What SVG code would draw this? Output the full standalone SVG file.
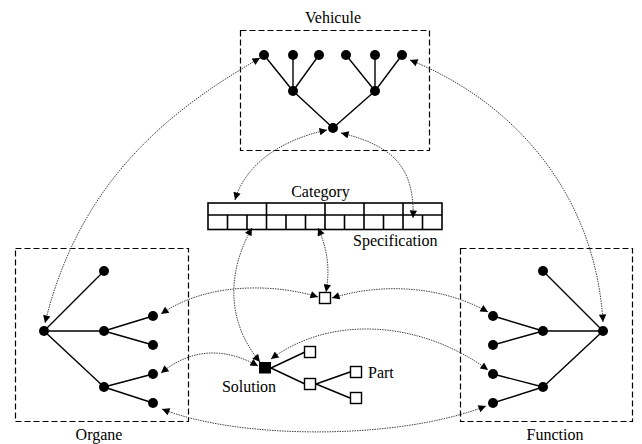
<svg xmlns="http://www.w3.org/2000/svg" width="642" height="444" viewBox="0 0 642 444">
<style>
.box{fill:none;stroke:#000;stroke-width:1.2;stroke-dasharray:6 3}
.edge{stroke:#000;stroke-width:1.4;fill:none}
.dot{fill:#000}
.sq{fill:#fff;stroke:#000;stroke-width:1.4}
.tbl{fill:#fff;stroke:#000;stroke-width:1.6}
.lnk{fill:none;stroke:#444;stroke-width:1;stroke-dasharray:1.5 1}
.lbl{font-family:'Liberation Serif','DejaVu Serif',serif;font-size:16px;fill:#000}
</style>
<defs>
<marker id="ah" viewBox="0 0 10 10" refX="10" refY="5" markerWidth="9" markerHeight="7.5" markerUnits="userSpaceOnUse" orient="auto-start-reverse">
<path d="M0,0 L10,5 L0,10 z" fill="#000"/>
</marker>
</defs>
<rect width="642" height="444" fill="#fff"/>

<g id="vehicule">
<rect class="box" x="240.5" y="30.5" width="189" height="120"/>
<text class="lbl" font-family="Liberation Serif, serif" x="333" y="23" text-anchor="middle">Vehicule</text>
<path class="edge" d="M264,55 L293,91 M293,55 L293,91 M319,55 L293,91 M346,55 L375,91 M375,55 L375,91 M402,55 L375,91 M293,91 L333,128 M375,91 L333,128"/>
<circle class="dot" cx="264" cy="55" r="5"/>
<circle class="dot" cx="293" cy="55" r="5"/>
<circle class="dot" cx="319" cy="55" r="5"/>
<circle class="dot" cx="346" cy="55" r="5"/>
<circle class="dot" cx="375" cy="55" r="5"/>
<circle class="dot" cx="402" cy="55" r="5"/>
<circle class="dot" cx="293" cy="91" r="5"/>
<circle class="dot" cx="375" cy="91" r="5"/>
<circle class="dot" cx="333" cy="128" r="5"/>
</g>

<g id="category">
<rect class="tbl" x="208" y="203" width="234" height="26.5"/>
<path class="tbl" d="M208,215 H442 M266.5,203 V229.5 M325,203 V229.5 M364,203 V229.5 M403,203 V229.5 M227.5,215 V229.5 M247,215 V229.5 M286,215 V229.5 M305.5,215 V229.5 M344.5,215 V229.5 M383.5,215 V229.5 M422.5,215 V229.5"/>
<text class="lbl" font-family="Liberation Serif, serif" x="320.5" y="197" text-anchor="middle">Category</text>
<text class="lbl" font-family="Liberation Serif, serif" x="353" y="246">Specification</text>
</g>

<g id="organe">
<rect class="box" x="15.5" y="248.5" width="173" height="173"/>
<text class="lbl" font-family="Liberation Serif, serif" x="99" y="440" text-anchor="middle">Organe</text>
<path class="edge" d="M44,331 L104,271 M44,331 L104,331 M44,331 L104,387 M104,331 L153,316 M104,331 L153,345 M104,387 L153,374 M104,387 L153,403"/>
<circle class="dot" cx="44" cy="331" r="5"/>
<circle class="dot" cx="104" cy="271" r="5"/>
<circle class="dot" cx="104" cy="331" r="5"/>
<circle class="dot" cx="104" cy="387" r="5"/>
<circle class="dot" cx="153" cy="316" r="5"/>
<circle class="dot" cx="153" cy="345" r="5"/>
<circle class="dot" cx="153" cy="374" r="5"/>
<circle class="dot" cx="153" cy="403" r="5"/>
</g>

<g id="function">
<rect class="box" x="460.5" y="248.5" width="172" height="173"/>
<text class="lbl" font-family="Liberation Serif, serif" x="555" y="440" text-anchor="middle">Function</text>
<path class="edge" d="M603,331 L543,271 M603,331 L543,331 M603,331 L543,387 M543,331 L493,316 M543,331 L493,345 M543,387 L493,374 M543,387 L493,403"/>
<circle class="dot" cx="603" cy="331" r="5"/>
<circle class="dot" cx="543" cy="271" r="5"/>
<circle class="dot" cx="543" cy="331" r="5"/>
<circle class="dot" cx="543" cy="387" r="5"/>
<circle class="dot" cx="493" cy="316" r="5"/>
<circle class="dot" cx="493" cy="345" r="5"/>
<circle class="dot" cx="493" cy="374" r="5"/>
<circle class="dot" cx="493" cy="403" r="5"/>
</g>

<g id="spec-node">
<rect class="sq" x="319.5" y="292.5" width="11" height="11"/>
</g>

<g id="solution">
<path class="edge" d="M271,368 L305,352 M271,368 L305,384 M316,384 L350,372 M316,384 L350,398"/>
<rect x="259" y="362" width="12" height="11.5" fill="#000"/>
<rect class="sq" x="304.5" y="346.5" width="11" height="11"/>
<rect class="sq" x="304.5" y="378.5" width="11" height="11"/>
<rect class="sq" x="350.5" y="366.5" width="11" height="11"/>
<rect class="sq" x="350.5" y="392.5" width="11" height="11"/>
<text class="lbl" font-family="Liberation Serif, serif" x="249" y="392" text-anchor="middle">Solution</text>
<text class="lbl" font-family="Liberation Serif, serif" x="368" y="378">Part</text>
</g>

<g id="connectors">
<path class="lnk" marker-start="url(#ah)" marker-end="url(#ah)" d="M260,58 C170,110 80,180 45,323"/>
<path class="lnk" marker-start="url(#ah)" marker-end="url(#ah)" d="M410,60 C510,100 595,190 603,322"/>
<path class="lnk" marker-start="url(#ah)" marker-end="url(#ah)" d="M327,130 C280,140 245,165 235,200"/>
<path class="lnk" marker-start="url(#ah)" marker-end="url(#ah)" d="M341,133 C390,145 415,165 413,218"/>
<path class="lnk" marker-start="url(#ah)" marker-end="url(#ah)" d="M252,228 C228,270 225,320 260,362"/>
<path class="lnk" marker-start="url(#ah)" marker-end="url(#ah)" d="M318,228 C328,250 330,270 326,292"/>
<path class="lnk" marker-start="url(#ah)" marker-end="url(#ah)" d="M318,297 C280,285 210,280 161,314"/>
<path class="lnk" marker-start="url(#ah)" marker-end="url(#ah)" d="M332,298 C380,283 440,285 488,312"/>
<path class="lnk" marker-start="url(#ah)" marker-end="url(#ah)" d="M258,366 C230,350 195,345 161,373"/>
<path class="lnk" marker-start="url(#ah)" marker-end="url(#ah)" d="M271,359 C330,315 420,320 488,370"/>
<path class="lnk" marker-start="url(#ah)" marker-end="url(#ah)" d="M162,409 C240,440 400,440 486,406"/>
</g>
</svg>
